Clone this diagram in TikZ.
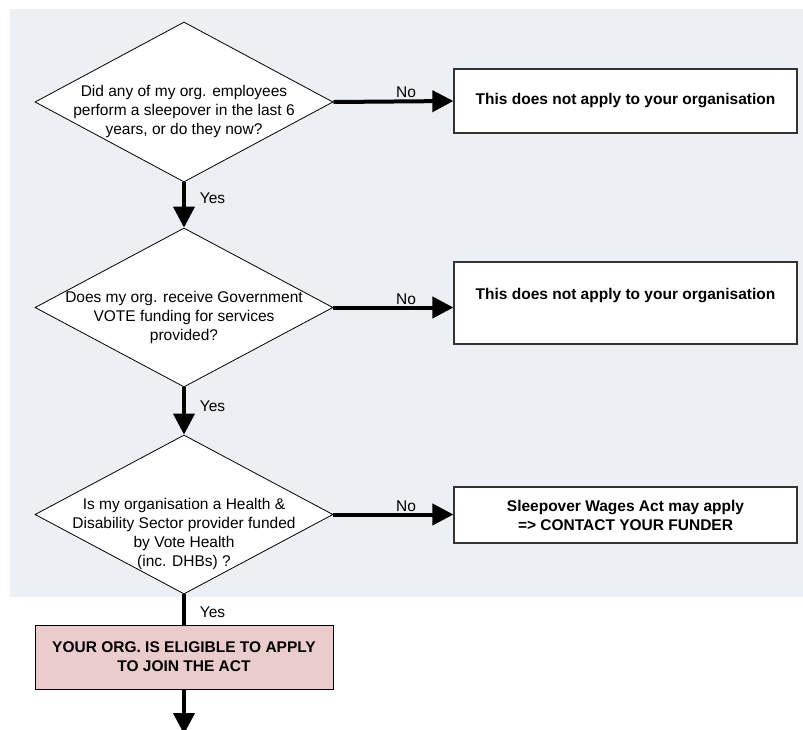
\documentclass[tikz,border=0pt]{standalone}
\usepackage{fontspec}
\setmainfont{Liberation Sans}
\usetikzlibrary{shapes.geometric,arrows.meta}
\definecolor{bgpanel}{HTML}{ECEFF4}
\definecolor{pinkbox}{HTML}{EBCCCC}
\definecolor{edgegray}{HTML}{333333}
\begin{document}
\begin{tikzpicture}[x=1pt,y=-1pt,
  txt/.style={font=\fontsize{15.5}{19}\selectfont, align=center, inner sep=0pt},
  decision/.style={shape=diamond, draw=black, line width=0.8pt, fill=white,
    minimum width=298pt, minimum height=160pt, inner sep=0pt},
  outbox/.style={draw=edgegray, line width=1.2pt, fill=white, minimum width=343pt,
    font=\bfseries\fontsize{15.5}{19}\selectfont, align=center, inner sep=0pt},
  eligbox/.style={draw=black, line width=1pt, fill=pinkbox, minimum width=298pt,
    minimum height=64pt, font=\bfseries\fontsize{15.5}{19}\selectfont, align=center, inner sep=0pt},
  flow/.style={line width=4pt, -{Triangle[length=21pt,width=21pt]}},
  plainflow/.style={line width=4pt},
  lbl/.style={font=\fontsize{15.5}{19}\selectfont, inner sep=0pt}
]
\useasboundingbox (0,0) rectangle (803,729);
\fill[white] (0,0) rectangle (803,729);
\fill[bgpanel] (10,9) rectangle (803,597);

% decisions
\node[decision] (d1) at (184,102) {};
\node[txt] (t1) at (184,111) {Did any of my org. employees\\perform a sleepover in the last 6\\years, or do they now?};
\node[decision, minimum height=159pt] (d2) at (184,307.5) {};
\node[txt] (t2) at (184,317) {Does my org. receive Government\\VOTE funding for services\\provided?};
\node[decision, minimum height=159pt] (d3) at (184,514.5) {};
\node[txt] (t3) at (184,534) {Is my organisation a Health \&\\Disability Sector provider funded\\by Vote Health\\(inc. DHBs) ?};

% outcome boxes
\node[outbox, minimum height=64pt] (b1) at (625.5,101) {This does not apply to your organisation};
\node[outbox, minimum height=82pt] (b2) at (625.5,303) {This does not apply to your organisation\\\mbox{}};
\node[outbox, minimum height=56pt] (b3) at (625.5,515) {Sleepover Wages Act may apply\\=> CONTACT YOUR FUNDER};
\node[eligbox] (b4) at (184,657) {YOUR ORG. IS ELIGIBLE TO APPLY\\TO JOIN THE ACT};
\coordinate (endpt) at (184,734);

% connectors
\draw[flow] (d1.south) -- (d2.north);
\draw[flow] (d2.south) -- (d3.north);
\draw[plainflow] (d3.south) -- (b4.north);
\draw[flow] (b4.south) -- (endpt);
\draw[flow] (d1.east) -- (b1.west);
\draw[flow] (d2.east) -- (b2.west |- d2.east);
\draw[flow] (d3.east) -- (b3.west |- d3.east);

% labels
\node[lbl] (y1) at (212.5,198) {Yes};
\node[lbl] (y2) at (212.5,406) {Yes};
\node[lbl] (y3) at (212.5,612) {Yes};
\node[lbl, anchor=south] (n1) at (406,98) {No};
\node[lbl, anchor=south] (n2) at (406,305) {No};
\node[lbl, anchor=south] (n3) at (406,512) {No};
\end{tikzpicture}
\end{document}
